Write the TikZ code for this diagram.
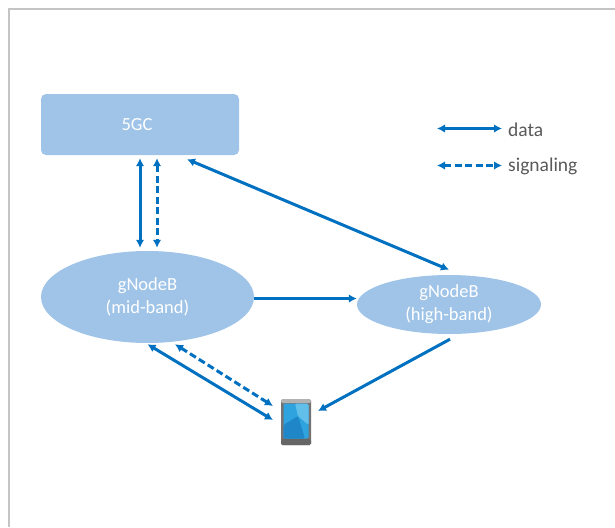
\documentclass[tikz,border=0pt]{standalone}
\usepackage{fontspec}
\setmainfont{Carlito}
\usetikzlibrary{arrows.meta,shapes.geometric}
\definecolor{nodeblue}{HTML}{9FC4E8}
\definecolor{linkblue}{HTML}{0070C0}
\definecolor{framegrey}{HTML}{C4C4C4}
\definecolor{labelgrey}{HTML}{595959}
\definecolor{screenmain}{HTML}{2FA3DE}
\definecolor{screenlight}{HTML}{62BFEA}
\definecolor{screendark}{HTML}{1F86C8}
\tikzset{
  x=1pt,y=-1pt,
  box/.style={fill=nodeblue,text=white,font=\fontsize{18.5}{23}\selectfont,align=center,inner sep=0pt},
  data/.style={draw=linkblue,line width=3pt,-{Latex[length=8pt,width=8.5pt]}},
  databoth/.style={data,{Latex[length=8pt,width=8.5pt]}-{Latex[length=8pt,width=8.5pt]}},
  signal/.style={databoth,dash pattern=on 7pt off 3.5pt},
  legend/.style={text=labelgrey,font=\fontsize{19.5}{22}\selectfont,anchor=west,inner sep=0pt},
}
\begin{document}
\begin{tikzpicture}
\useasboundingbox (0,0) rectangle (615,527);
\draw[framegrey,line width=1.5pt] (9,527) -- (9,9) -- (615,9);

\node[box,rectangle,rounded corners=5pt,minimum width=198pt,minimum height=61pt] (core) at (140,124.5) {5GC\hspace{6pt}};
\node[box,ellipse,minimum width=213pt,minimum height=92pt] (mid) at (147.5,297) {gNodeB\\(mid-band)};
\node[box,ellipse,minimum width=184pt,minimum height=59pt] (high) at (449,304.5) {gNodeB\\(high-band)};
\node[rectangle,rounded corners=1.5pt,fill=black!55,minimum width=30pt,minimum height=46pt,inner sep=0pt,
  path picture={
    \fill[black!30] (-15,-23) rectangle (15,-19);
    \fill[black!60] (-15,17) rectangle (15,23);
    \fill[screenmain] (-12.5,-18.5) rectangle (12.5,16.5);
    \fill[screenlight] (-1,-18.5) -- (12.5,-18.5) -- (12.5,3) -- (2,-6) -- cycle;
    \fill[screendark] (-12.5,3) -- (2,-6) -- (9,16.5) -- (-12.5,16.5) -- cycle;
  }] (phone) at (296,422) {};

\draw[databoth] ([shift={(0,3)}]core.south) -- ([shift={(-7.5,-3)}]mid.north);
\draw[signal] ([shift={(17,3)}]core.south) -- ([shift={(9.5,-3)}]mid.north);
\draw[databoth] ([shift={(47,4)}]core.south) -- ([shift={(0,-5)}]high.north);
\draw[data] ([shift={(0,1.5)}]mid.east) -- ([shift={(0,-6)}]high.west);
\draw[data] ([shift={(1,5)}]high.south) -- ([shift={(22,-11)}]phone.center);
\draw[databoth] ([shift={(0,1)}]mid.south) -- ([shift={(-23,-2)}]phone.center);
\draw[signal] ([shift={(27.5,1)}]mid.south) -- ([shift={(-23,-16)}]phone.center);

\coordinate (da) at (437,128.5);
\coordinate (db) at (502,128.5);
\coordinate (sa) at (437,165.5);
\coordinate (sb) at (502,165.5);
\draw[databoth] (da) -- (db);
\draw[signal] (sa) -- (sb);
\node[legend] (dl) at (508,130) {data};
\node[legend] (sl) at (508,166) {signaling};
\end{tikzpicture}
\end{document}
